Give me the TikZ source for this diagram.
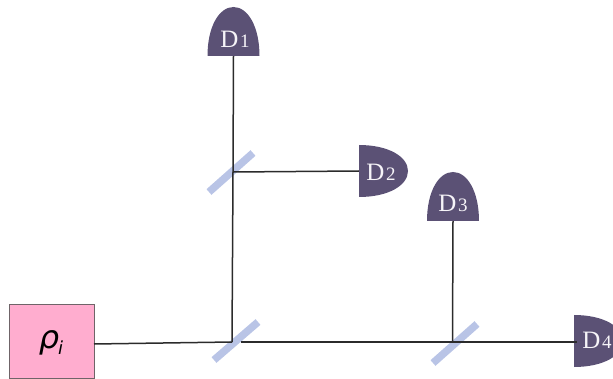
\documentclass[tikz,border=0pt]{standalone}
\usepackage{fontspec}
\setmainfont{Liberation Serif}
\newfontfamily\rhofont{DejaVu Sans}
\definecolor{detfill}{HTML}{5B5175}
\definecolor{mirrorfill}{HTML}{B9C4E6}
\definecolor{boxfill}{HTML}{FFADCF}
\definecolor{boxline}{HTML}{6F6468}
\definecolor{beamline}{HTML}{2B2B2B}
\definecolor{labeltext}{HTML}{F6F4F8}
\tikzset{
  beam/.style={draw=beamline,line width=1.5pt},
  mirrorbar/.style={draw=mirrorfill,line width=7.5pt},
  detshape/.style={fill=detfill,draw=none},
  detlabel/.style={text=labeltext,inner sep=0pt,font=\fontsize{25}{25}\selectfont},
  source/.style={draw=boxline,fill=boxfill,line width=1pt,minimum width=84.5pt,minimum height=73.5pt,inner sep=0pt},
  pics/detector/.style={code={
    \path[detshape] (-26,0) .. controls (-26,-30) and (-14,-49) .. (0,-49)
      .. controls (14,-49) and (26,-30) .. (26,0) -- cycle;
  }}
}
\newcommand{\detname}[1]{D{\fontsize{19}{19}\selectfont\kern1.5pt#1}}
\begin{document}
\begin{tikzpicture}[x=1pt,y=-1pt]
\clip (0,0) rectangle (613,379);
% anchor points
\coordinate (d1base) at (233.5,56);
\coordinate (d2base) at (359,171);
\coordinate (d3base) at (453,221);
\coordinate (d4base) at (577,342);
\coordinate (m1) at (232,342);
\coordinate (m2) at (233,172);
\coordinate (m3) at (452.5,342);
\coordinate (m1out) at (241,342);
% source
\node[source] (src) at (51.75,341.25) {};
\coordinate (srcout) at (94,344);
% mirrors
\draw[mirrorbar] (214,360) -- (258,322);
\draw[mirrorbar] (209,192) -- (253,153);
\draw[mirrorbar] (433,363) -- (477,324);
% beams
\draw[beam] (srcout) -- (m1);
\draw[beam] (m1) -- (m2);
\draw[beam] (m2) -- (d1base);
\draw[beam] (m2) -- (d2base);
\draw[beam] (m1out) -- (m3);
\draw[beam] (m3) -- (d3base);
% detectors
\pic at (d1base) {detector};
\pic[rotate=-90] at (359,171) {detector};
\pic at (d3base) {detector};
\pic[rotate=-90] at (574,341) {detector};
\draw[beam] (m3) -- (d4base);
\node[detlabel] (D1) at (235,39) {\detname{1}};
\node[detlabel] (D2) at (381,172) {\detname{2}};
\node[detlabel] (D3) at (453,203) {\detname{3}};
\node[detlabel] (D4) at (597,340) {\detname{4}};
\node[inner sep=0pt,font=\fontsize{32}{32}\selectfont] (rho) at (51,343) {\rhofont\itshape ρ\raisebox{-6pt}{\fontsize{18}{18}\selectfont\kern-1pt i}};
\end{tikzpicture}
\end{document}
